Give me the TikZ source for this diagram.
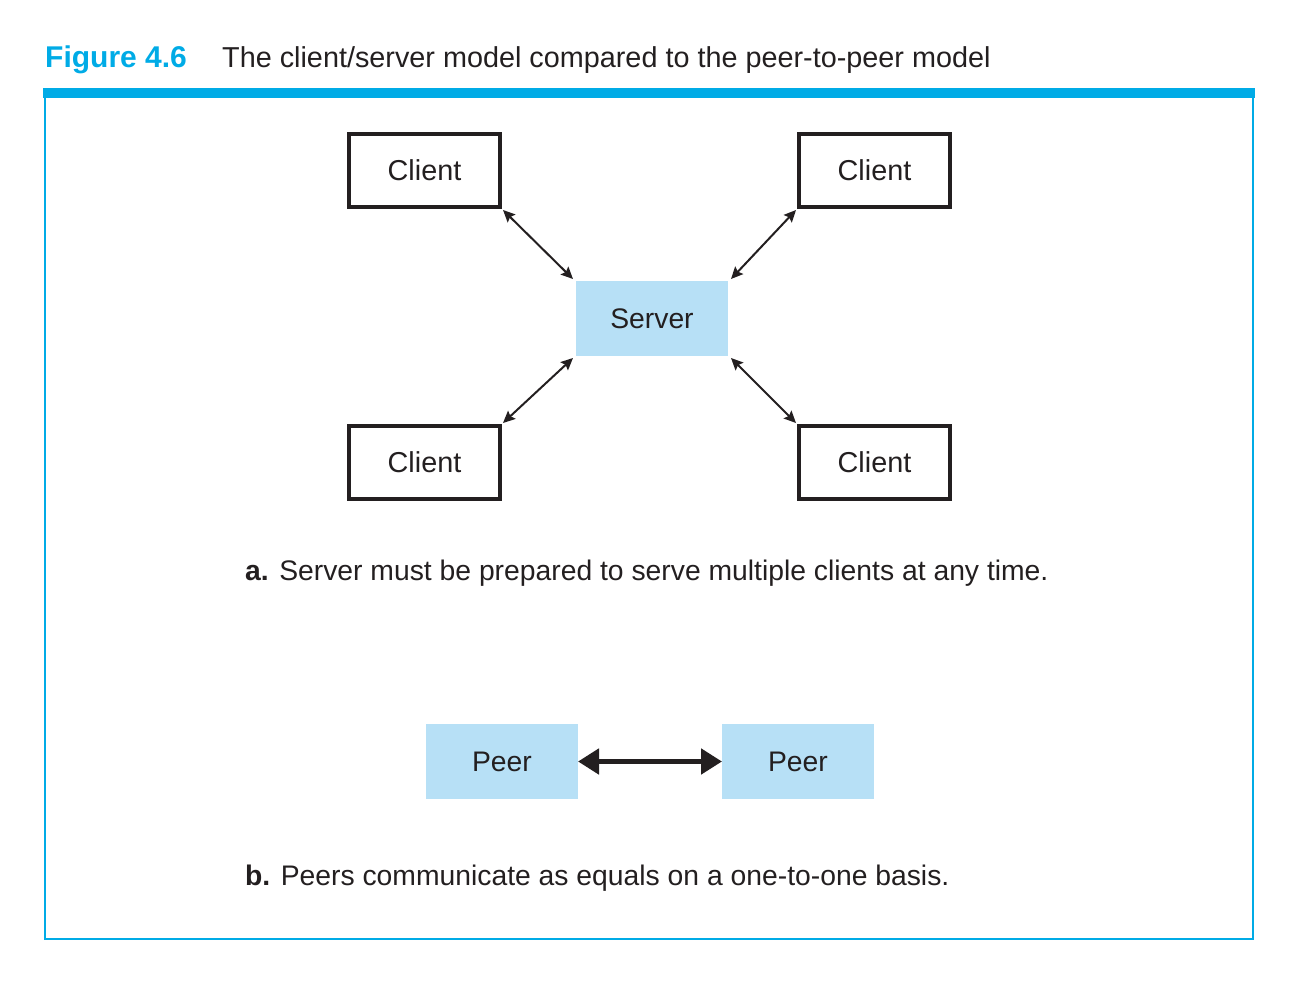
\documentclass[tikz,border=0pt]{standalone}
\usepackage{fontspec}
\setmainfont{Liberation Sans}
\usetikzlibrary{arrows.meta}
\definecolor{figblue}{RGB}{0,171,230}
\definecolor{boxblue}{RGB}{183,224,246}
\definecolor{ink}{RGB}{35,31,32}
\begin{document}
\begin{tikzpicture}[x=1pt,y=-1pt,
  every node/.style={text=ink},
  client/.style={draw=ink,line width=4.5pt,minimum width=151pt,minimum height=73pt,inner sep=0pt,outer sep=0pt,font=\fontsize{28.8}{32}\selectfont},
  bluebox/.style={fill=boxblue,minimum width=152pt,minimum height=75pt,inner sep=0pt,outer sep=0pt,font=\fontsize{28.3}{32}\selectfont},
  thinarrow/.style={draw=ink,line width=2pt,{Stealth[length=12pt,width=11pt,inset=2pt]}-{Stealth[length=12pt,width=11pt,inset=2pt]}},
  thickarrow/.style={draw=ink,line width=5pt,{Triangle[length=21pt,width=25pt]}-{Triangle[length=21pt,width=25pt]}},
  caption/.style={anchor=base west,inner sep=0pt,font=\fontsize{28.3}{32}\selectfont}
]
\useasboundingbox (0,0) rectangle (1296,998);
% title
\node[anchor=base west,inner sep=0pt,text=figblue,font=\fontsize{30}{34}\selectfont\bfseries] (fig) at (45,67) {Figure 4.6};
\node[anchor=base west,inner sep=0pt,font=\fontsize{28.8}{32}\selectfont] (title) at (222,67) {The client/server model compared to the peer-to-peer model};
% frame
\draw[figblue,line width=2pt] (45,93) rectangle (1252.5,938.5);
\fill[figblue] (43,88) rectangle (1255,97.5);
% part a
\node[client] (c1) at (424.5,170.5) {Client};
\node[client] (c2) at (874.5,170.5) {Client};
\node[client] (c3) at (424.5,462.5) {Client};
\node[client] (c4) at (874.5,462.5) {Client};
\node[bluebox] (s) at (652,318.5) {Server};
\draw[thinarrow] ([shift={(3,3)}]c1.south east) -- ([shift={(-3,-2)}]s.north west);
\draw[thinarrow] ([shift={(-3,3)}]c2.south west) -- ([shift={(3,-2)}]s.north east);
\draw[thinarrow] ([shift={(3,-3)}]c3.north east) -- ([shift={(-3,2)}]s.south west);
\draw[thinarrow] ([shift={(-3,-3)}]c4.north west) -- ([shift={(3,2)}]s.south east);
\node[caption] (capa) at (245,580.5) {\textbf{a.} Server must be prepared to serve multiple clients at any time.};
% part b
\node[bluebox] (p1) at (502,761.5) {Peer};
\node[bluebox] (p2) at (798,761.5) {Peer};
\draw[thickarrow] (p1.east) -- (p2.west);
\node[caption] (capb) at (245,885.5) {\textbf{b.} Peers communicate as equals on a one-to-one basis.};
\end{tikzpicture}
\end{document}
